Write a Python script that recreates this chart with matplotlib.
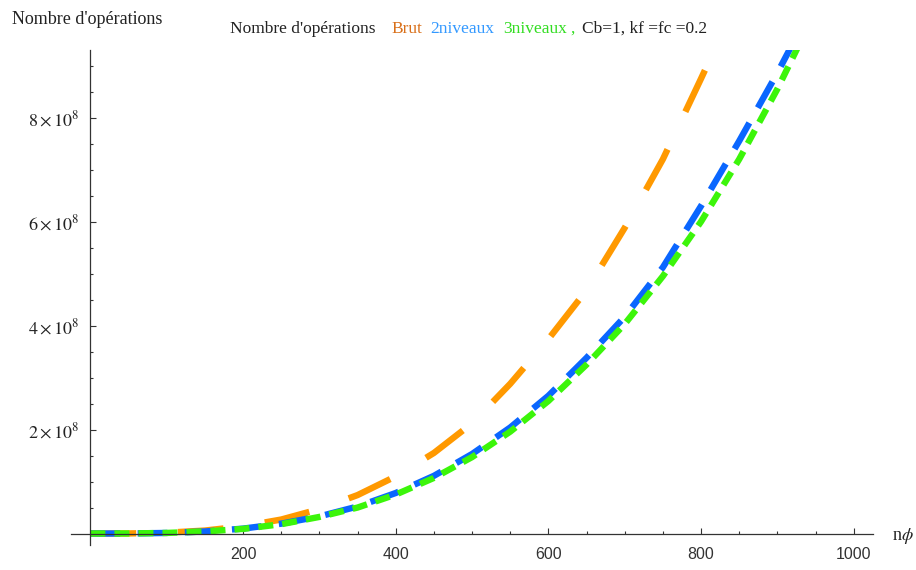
import matplotlib
matplotlib.use("Agg")
import matplotlib.pyplot as plt
from matplotlib.ticker import FixedLocator, FixedFormatter

plt.rcParams['mathtext.fontset'] = 'stix'
plt.rcParams['lines.scale_dashes'] = False

# --- data ---
n_brut = [0, 50, 100, 150, 200, 250, 300, 350, 400, 450, 500, 550, 600, 650, 700, 750, 800, 830]
ops_brut = [0, 0.002e8, 0.017e8, 0.058e8, 0.14e8, 0.27e8, 0.47e8, 0.74e8, 1.1e8, 1.55e8,
            2.12e8, 2.88e8, 3.74e8, 4.68e8, 5.88e8, 7.2e8, 8.75e8, 9.7e8]

n_2niv = [0, 50, 100, 150, 200, 250, 300, 350, 400, 450, 500, 550, 600, 650, 700, 750, 800, 850, 900, 930]
ops_2niv = [0, 0.0015e8, 0.012e8, 0.04e8, 0.095e8, 0.19e8, 0.33e8, 0.52e8, 0.78e8, 1.11e8,
            1.53e8, 2.04e8, 2.65e8, 3.38e8, 4.17e8, 5.12e8, 6.3e8, 7.55e8, 8.86e8, 9.7e8]

n_3niv = [0, 50, 100, 150, 200, 250, 300, 350, 400, 450, 500, 550, 600, 650, 700, 750, 800, 850, 900, 930]
ops_3niv = [0, 0.0015e8, 0.012e8, 0.04e8, 0.09e8, 0.18e8, 0.32e8, 0.50e8, 0.75e8, 1.07e8,
            1.47e8, 1.96e8, 2.55e8, 3.25e8, 4.03e8, 4.95e8, 6.0e8, 7.2e8, 8.55e8, 9.45e8]

x_ticks = [200, 400, 600, 800, 1000]
x_tick_labels = ['200', '400', '600', '800', '1000']
y_ticks = [2e8, 4e8, 6e8, 8e8]
y_tick_labels = [r'$2\times10^{8}$', r'$4\times10^{8}$', r'$6\times10^{8}$', r'$8\times10^{8}$']

title_parts = ["Nombre d'opérations", "Brut", "2niveaux", "3niveaux", ",", "Cb=1, kf =fc =0.2"]
title_colors = ['#222222', '#D9701A', '#3399FF', '#33DD22', '#33DD22', '#222222']
title_x_px = [230, 391.5, 430, 503, 570.5, 581.5]

W, H = 916, 570
fig = plt.figure(figsize=(W / 100, H / 100), dpi=100)
ax = fig.add_axes([71.3 / W, 25 / H, (872.8 - 71.3) / W, (545 - 50) / H])
ax.set_xlim(-25, 1025)
ax.set_ylim(-0.22e8, 9.3e8)

lw = 4.6
ax.plot(n_brut, ops_brut, color='#FF9900', lw=lw, dashes=(33, 30), dash_capstyle='butt')
ax.plot(n_2niv, ops_2niv, color='#0A66FF', lw=lw, dashes=(21.5, 12.5), dash_capstyle='butt')
ax.plot(n_3niv, ops_3niv, color='#3CF50A', lw=lw, dashes=(10.8, 6.5), dash_capstyle='butt')

for s in ['top', 'right']:
    ax.spines[s].set_visible(False)
ax.spines['left'].set_position(('data', 0))
ax.spines['bottom'].set_position(('data', 0))
for s in ['left', 'bottom']:
    ax.spines[s].set_color('#333333')
    ax.spines[s].set_linewidth(0.9)

ax.xaxis.set_major_locator(FixedLocator(x_ticks))
ax.xaxis.set_major_formatter(FixedFormatter(x_tick_labels))
ax.yaxis.set_major_locator(FixedLocator(y_ticks))
ax.yaxis.set_major_formatter(FixedFormatter(y_tick_labels))
ax.xaxis.set_minor_locator(FixedLocator([v for v in range(50, 1001, 50) if v % 200 != 0]))
ax.yaxis.set_minor_locator(FixedLocator([v * 0.5e8 for v in range(1, 19) if v % 4 != 0]))

ax.tick_params(axis='both', which='major', direction='in', length=4.5, width=0.8, color='#333333')
ax.tick_params(axis='both', which='minor', direction='in', length=2.5, width=0.8, color='#333333')
ax.tick_params(axis='x', which='major', pad=10, labelsize=11.5, labelcolor='#333333')
ax.tick_params(axis='y', which='major', pad=8, labelsize=13, labelcolor='#222222')
for lab in ax.get_xticklabels():
    lab.set_fontfamily('Liberation Sans')

serif = 'Liberation Serif'
fig.canvas.draw()
renderer = fig.canvas.get_renderer()
prev_right = None
for txt, col, xp in zip(title_parts, title_colors, title_x_px):
    x = xp
    if prev_right is not None and x < prev_right + 3:
        x = prev_right + 3
    t = fig.text(x / W, 1 - 29 / H, txt, color=col, fontsize=12.5, family=serif,
                 ha='left', va='center')
    bb = t.get_window_extent(renderer)
    prev_right = bb.x1

fig.text(12 / W, 1 - 19 / H, "Nombre d'opérations", fontsize=13, family=serif,
         color='#222222', ha='left', va='center')
fig.text(892 / W, 1 - 536 / H, r'n$\phi$', fontsize=13, family=serif, color='#222222',
         ha='left', va='center')

fig.savefig('out.png', dpi=100)
